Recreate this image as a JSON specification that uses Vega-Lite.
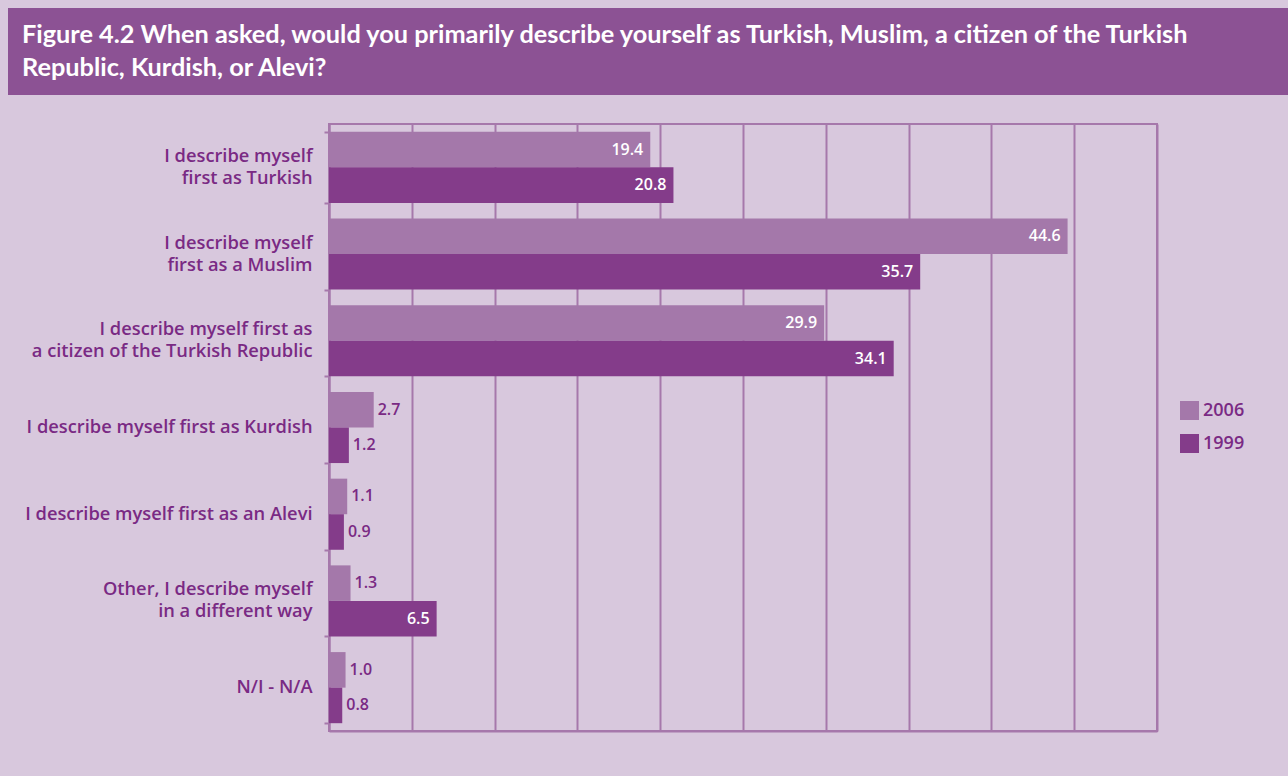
{
  "$schema": "https://vega.github.io/schema/vega-lite/v6.json",
  "background": "#d8c8dd",
  "padding": {"left": 5, "top": 8, "right": 0, "bottom": 46},
  "spacing": 28,
  "config": {"view": {"stroke": null}, "font": "Lato"},
  "datasets": {
    "d": [
      {"category": "I describe myself|first as Turkish", "year": "2006", "value": 19.4},
      {"category": "I describe myself|first as Turkish", "year": "1999", "value": 20.8},
      {"category": "I describe myself|first as a Muslim", "year": "2006", "value": 44.6},
      {"category": "I describe myself|first as a Muslim", "year": "1999", "value": 35.7},
      {"category": "I describe myself first as|a citizen of the Turkish Republic", "year": "2006", "value": 29.9},
      {"category": "I describe myself first as|a citizen of the Turkish Republic", "year": "1999", "value": 34.1},
      {"category": "I describe myself first as Kurdish", "year": "2006", "value": 2.7},
      {"category": "I describe myself first as Kurdish", "year": "1999", "value": 1.2},
      {"category": "I describe myself first as an Alevi", "year": "2006", "value": 1.1},
      {"category": "I describe myself first as an Alevi", "year": "1999", "value": 0.9},
      {"category": "Other, I describe myself|in a different way", "year": "2006", "value": 1.3},
      {"category": "Other, I describe myself|in a different way", "year": "1999", "value": 6.5},
      {"category": "N/I - N/A", "year": "2006", "value": 1.0},
      {"category": "N/I - N/A", "year": "1999", "value": 0.8}
    ]
  },
  "vconcat": [
    {
      "width": 1283,
      "height": 87,
      "view": {"fill": "#8c5294", "stroke": null},
      "title": {
        "text": ["Figure 4.2 When asked, would you primarily describe yourself as Turkish, Muslim, a citizen of the Turkish", "Republic, Kurdish, or Alevi?"],
        "orient": "top",
        "anchor": "start",
        "frame": "group",
        "offset": -73,
        "dx": 14,
        "baseline": "top",
        "color": "white",
        "fontSize": 25.3,
        "fontWeight": "bold",
        "lineHeight": 33,
        "font": "Lato"
      },
      "data": {"values": [{}]},
      "mark": {"type": "point", "opacity": 0},
      "encoding": {}
    },
    {
      "spacing": 10,
      "hconcat": [
        {
          "width": 1,
          "height": 607,
          "data": {"name": "d"},
          "mark": {"type": "point", "opacity": 0},
          "encoding": {
            "y": {
              "field": "category",
              "type": "nominal",
              "sort": null,
              "scale": {"paddingInner": 0.18, "paddingOuter": 0.09},
              "axis": {
                "orient": "right",
                "title": null,
                "domain": false,
                "ticks": false,
                "tickSize": 0,
                "labelAlign": "right",
                "labelColor": "#7a2a84",
                "labelFont": "Open Sans",
                "labelFontSize": 18.3,
                "labelFontWeight": 600,
                "labelPadding": 303,
                "labelLimit": 400,
                "labelExpr": "split(datum.value, '|')",
                "labelLineHeight": 22,
                "labelOffset": {"condition": {"test": "indexof(datum.value, '|') >= 0", "value": -11}, "value": 0}
              }
            }
          }
        },
        {
          "width": 828,
          "height": 607,
          "view": {"stroke": "#a678ab", "strokeWidth": 2},
          "data": {"name": "d"},
          "encoding": {
            "y": {
              "field": "category",
              "type": "nominal",
              "sort": null,
              "scale": {"paddingInner": 0.18, "paddingOuter": 0.09},
              "axis": {
                "title": null,
                "labels": false,
                "domainColor": "#a678ab",
                "domainWidth": 2,
                "tickBand": "extent",
                "tickColor": "#a678ab",
                "tickWidth": 2,
                "tickSize": 5
              }
            },
            "x": {
              "field": "value",
              "type": "quantitative",
              "scale": {"domain": [0, 50], "nice": false},
              "axis": {
                "title": null,
                "values": [0, 5, 10, 15, 20, 25, 30, 35, 40, 45, 50],
                "grid": true,
                "gridColor": "#a678ab",
                "gridWidth": 2,
                "gridOpacity": 1,
                "labels": false,
                "ticks": false,
                "domainColor": "#a678ab",
                "domainWidth": 2
              }
            },
            "yOffset": {"field": "year", "type": "nominal", "sort": ["2006", "1999"], "scale": {"paddingInner": 0, "paddingOuter": 0}}
          },
          "layer": [
            {
              "mark": {"type": "bar"},
              "encoding": {
                "color": {
                  "field": "year",
                  "type": "nominal",
                  "scale": {"domain": ["2006", "1999"], "range": ["#a478aa", "#843c8a"]},
                  "legend": {
                    "orient": "none",
                    "legendX": 1172,
                    "legendY": 393,
                    "title": null,
                    "symbolType": "square",
                    "symbolSize": 361,
                    "symbolStrokeWidth": 0,
                    "symbolOpacity": 1,
                    "labelFont": "Open Sans",
                    "labelFontSize": 18,
                    "labelFontWeight": 600,
                    "labelColor": "#7a2a84",
                    "rowPadding": 14,
                    "labelOffset": 4
                  }
                }
              }
            },
            {
              "transform": [{"filter": "datum.value >= 3"}],
              "mark": {"type": "text", "align": "right", "baseline": "middle", "dx": -7, "color": "white", "fontSize": 16, "fontWeight": 600, "font": "Open Sans"},
              "encoding": {"text": {"field": "value", "type": "quantitative", "format": ".1f"}}
            },
            {
              "transform": [{"filter": "datum.value < 3"}],
              "mark": {"type": "text", "align": "left", "baseline": "middle", "dx": 4, "color": "#7a2a84", "fontSize": 16, "fontWeight": 600, "font": "Open Sans"},
              "encoding": {"text": {"field": "value", "type": "quantitative", "format": ".1f"}}
            }
          ]
        }
      ]
    }
  ]
}
